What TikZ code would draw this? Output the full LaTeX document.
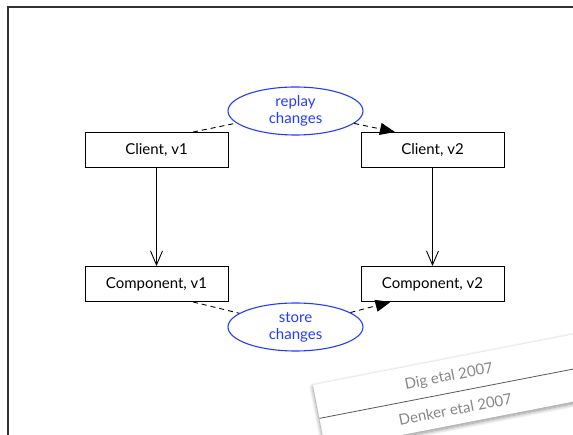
\documentclass[tikz,border=0pt]{standalone}
\usepackage{fontspec}
\setmainfont{Lato}
\usetikzlibrary{shapes.geometric,arrows.meta,shadows.blur}
\definecolor{chblue}{RGB}{35,60,250}
\definecolor{notegray}{RGB}{135,135,135}
\begin{document}
\begin{tikzpicture}[x=1pt,y=-1pt,
  versionbox/.style={draw,line width=0.9pt,minimum width=143pt,minimum height=35pt,
    inner sep=0pt,font=\fontsize{15}{18}\selectfont},
  changebubble/.style={ellipse,draw=chblue,line width=1.1pt,text=chblue,
    minimum width=135pt,minimum height=48pt,inner sep=0pt,align=center,
    font=\fontsize{15}{17}\selectfont},
  dashlink/.style={dash pattern=on 5pt off 4pt,line width=0.9pt},
  refnote/.style={text=notegray,font=\fontsize{15}{18}\selectfont}]

\useasboundingbox (0,0) rectangle (573,435);

% slide frame
\draw[black!80,line width=1.3pt] (573,7) -- (8,7) -- (8,435);

\node[versionbox] (client1) at (156.5,150) {Client, v1};
\node[versionbox] (client2) at (432.5,150) {Client, v2};
\node[versionbox] (comp1)   at (156.5,284) {Component, v1};
\node[versionbox] (comp2)   at (432.5,284) {Component, v2};

\node[changebubble] (replay) at (295.5,111) {replay\\changes};
\node[changebubble] (store)  at (295.5,327) {store\\changes};

\draw[line width=0.9pt,-{Straight Barb[length=14pt,width=12pt]}] (client1) -- (comp1);
\draw[line width=0.9pt,-{Straight Barb[length=14pt,width=12pt]}] (client2) -- (comp2);

\draw[dashlink] ([xshift=36.5pt]client1.north) -- (replay);
\draw[dashlink,-{Triangle[length=15pt,width=12pt]}] (replay) -- ([xshift=-37.5pt]client2.north);
\draw[dashlink] ([xshift=36.5pt]comp1.south) -- (store);
\draw[dashlink,-{Triangle[length=15pt,width=12pt]}] (store) -- ([xshift=-42pt]comp2.south);

% references strip
\begin{scope}[shift={(313,385)},rotate=11,transform shape]
\fill[white,blur shadow={shadow xshift=0pt,shadow yshift=-2pt,shadow opacity=45,
  shadow blur radius=4pt,shadow blur steps=10}] (0,0) rectangle (300,66);
\draw[black!65,line width=0.8pt] (0,34) -- (300,34);
\node[refnote] (dig)    at (135,18) {Dig etal 2007};
\node[refnote] (denker) at (135,51) {Denker etal 2007};
\end{scope}
\end{tikzpicture}
\end{document}
